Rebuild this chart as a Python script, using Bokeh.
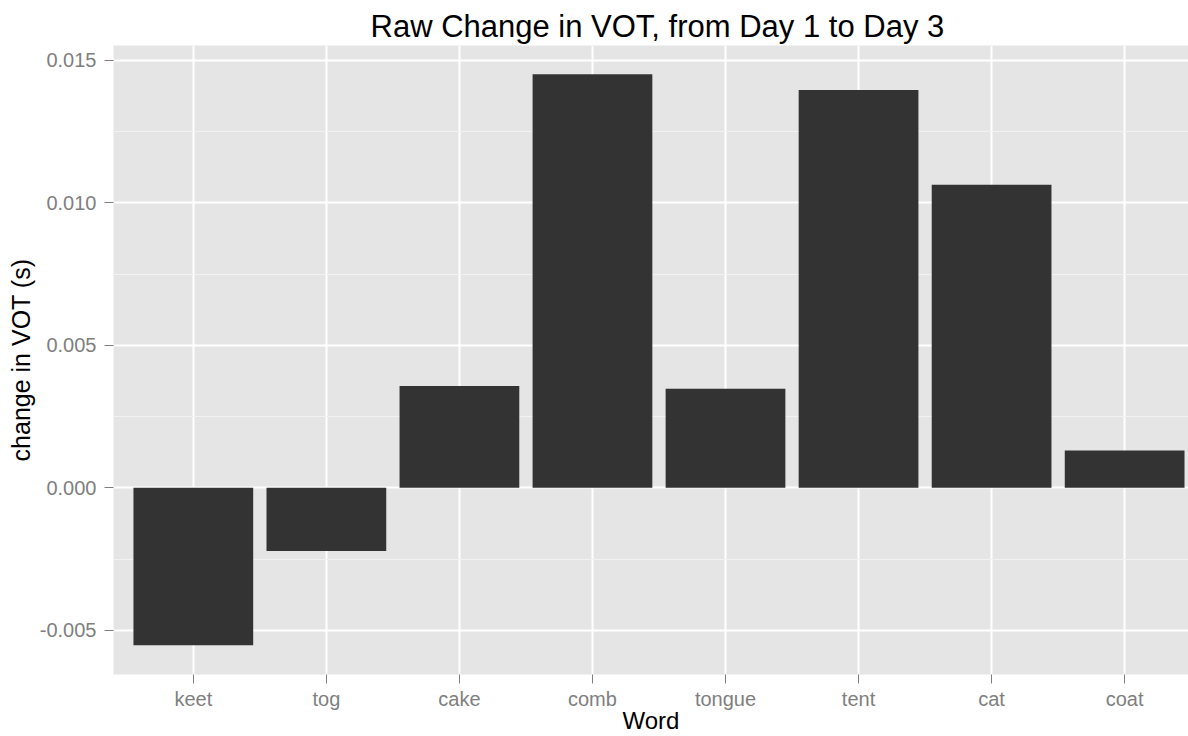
from bokeh.plotting import figure
from bokeh.models import Range1d, FixedTicker, NumeralTickFormatter, ColumnDataSource
from bokeh.embed import file_html
from bokeh.resources import INLINE

words = ["keet", "tog", "cake", "comb", "tongue", "tent", "cat", "coat"]
change = [-0.00552, -0.00222, 0.00357, 0.01451, 0.00348, 0.01396, 0.01063, 0.00131]
y_ticks = [-0.005, 0.0, 0.005, 0.010, 0.015]
y_minor = [-0.0025, 0.0025, 0.0075, 0.0125]

positions = list(range(1, len(words) + 1))
src = ColumnDataSource(dict(x=positions, top=change, bottom=[0] * len(change)))

FONT = "Liberation Sans"
p = figure(width=1188, height=736, output_backend="svg", toolbar_location=None,
           x_range=Range1d(0.4, 8.48), y_range=Range1d(-0.00655, 0.01552),
           min_border_left=113, min_border_right=0, min_border_top=45, min_border_bottom=60,
           background_fill_color="#E5E5E5", border_fill_color="white", outline_line_color=None)

p.vbar(x="x", top="top", bottom="bottom", width=0.9, source=src,
       fill_color="#333333", line_color=None)

p.title.text = "Raw Change in VOT, from Day 1 to Day 3"
p.title.align = "left"
p.title.offset = 257
p.title.text_font = FONT
p.title.text_font_size = "31px"
p.title.text_font_style = "normal"
p.title.text_color = "black"
p.title.standoff = 4

# y axis
ya = p.yaxis[0]
ya.ticker = FixedTicker(ticks=y_ticks, minor_ticks=y_minor)
ya.formatter = NumeralTickFormatter(format="0.000")
ya.axis_label = "change in VOT (s)"
ya.major_label_standoff = 8
ya.axis_label_standoff = 2
# x axis
xa = p.xaxis[0]
xa.ticker = FixedTicker(ticks=positions)
xa.major_label_overrides = {i: w for i, w in zip(positions, words)}
xa.axis_label = "Word"
xa.major_label_standoff = 4
xa.axis_label_standoff = -6

for ax in (xa, ya):
    ax.axis_line_color = None
    ax.major_tick_in = 0
    ax.major_tick_out = 9
    ax.major_tick_line_color = "#7F7F7F"
    ax.major_tick_line_width = 1
    ax.minor_tick_line_color = None
    ax.major_label_text_font = FONT
    ax.major_label_text_font_size = "20px"
    ax.major_label_text_color = "#7F7F7F"
    ax.axis_label_text_font = FONT
    ax.axis_label_text_font_style = "normal"
    ax.axis_label_text_color = "black"
xa.axis_label_text_font_size = "24px"
ya.axis_label_text_font_size = "25px"

p.xgrid.grid_line_color = "white"
p.xgrid.grid_line_width = 2
p.ygrid.grid_line_color = "white"
p.ygrid.grid_line_width = 2
p.ygrid.minor_grid_line_color = "#F2F2F2"
p.ygrid.minor_grid_line_width = 1

open("out.html", "w").write(file_html(p, INLINE))
